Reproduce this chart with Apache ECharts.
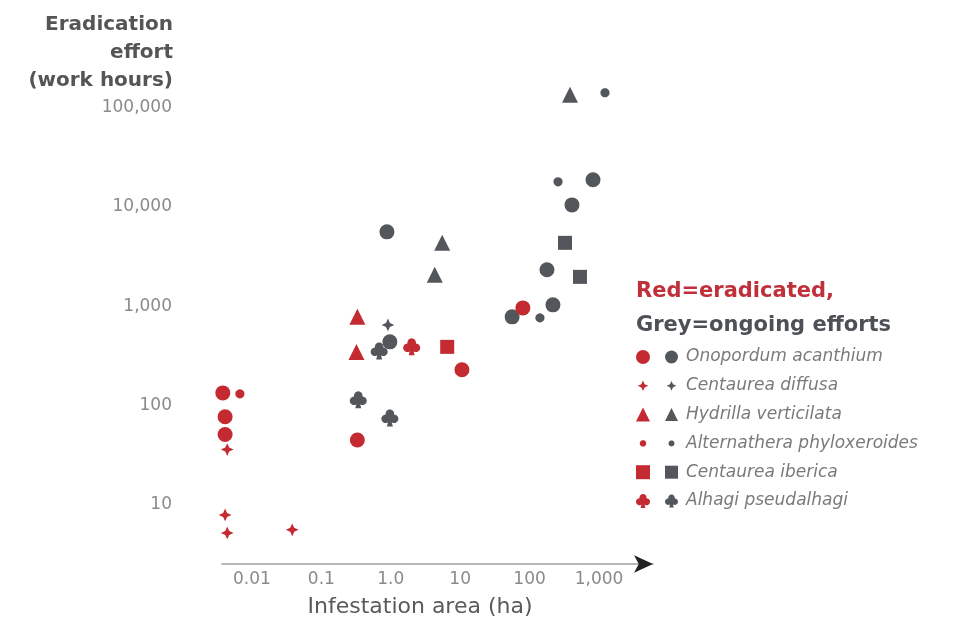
<!DOCTYPE html>
<html>
<head>
<meta charset="utf-8">
<script src="https://cdn.jsdelivr.net/npm/echarts@6/dist/echarts.min.js"></script>
<style>
  html, body { margin: 0; padding: 0; background: #fff; }
  #chart { width: 961px; height: 625px; }
</style>
</head>
<body>
<div id="chart"></div>
<script>
// ---- tick labels ----
const xTickLabels = ['0.01', '0.1', '1.0', '10', '100', '1,000']; // 10^-2 .. 10^3
const yTickLabels = ['10', '100', '1,000', '10,000', '100,000'];   // 10^1 .. 10^5

// ---- species ----
const species = ['Onopordum acanthium', 'Centaurea diffusa', 'Hydrilla verticilata',
  'Alternathera phyloxeroides', 'Centaurea iberica', 'Alhagi pseudalhagi'];

// ---- eradicated (red): [area ha, work hours] ----
const onopordumEradicated = [[0.0038, 134], [0.0041, 77], [0.0041, 51], [0.33, 45], [10.6, 229], [80, 963]];
const diffusaEradicated = [[0.0044, 36], [0.0041, 7.9], [0.0044, 5.2], [0.038, 5.6]];
const hydrillaEradicated = [[0.33, 782], [0.32, 347]];
const alternantheraEradicated = [[0.0067, 131]];
const ibericaEradicated = [[6.5, 390]];
const alhagiEradicated = [[2.0, 390]];

// ---- ongoing (grey) ----
const onopordumOngoing = [[0.88, 5620], [0.97, 438], [820, 18800], [408, 10500], [178, 2330], [217, 1033], [56, 782]];
const diffusaOngoing = [[0.91, 649]];
const hydrillaOngoing = [[5.5, 4355], [4.3, 2073], [382, 135000]];
const alternantheraOngoing = [[1220, 141600], [257, 17950], [141, 764]];
const ibericaOngoing = [[324, 4355], [532, 1978]];
const alhagiOngoing = [[0.68, 355], [0.34, 114], [0.97, 75]];

const RED = '#c42a32';
const GREY = '#53575c';
const FONT = 'DejaVu Sans';

// symbol shapes (marker glyphs, not data)
function circlePoly(cx, cy, r, n) {
  let d = '';
  for (let i = 0; i < n; i++) {
    const a = 2 * Math.PI * i / n;
    d += (i === 0 ? 'M' : 'L') + (cx + r * Math.cos(a)).toFixed(2) + ',' + (cy + r * Math.sin(a)).toFixed(2) + ' ';
  }
  return d + 'Z ';
}
const starPath = 'path://M0,0 M24,24 M12,3 L14.8,9.2 L21,12 L14.8,14.8 L12,21 L9.2,14.8 L3,12 L9.2,9.2 Z';
const dotPath = 'path://M0,0 M24,24 ' + circlePoly(12, 12, 5.5, 24);
const clubPath = 'path://' + circlePoly(12, 6.8, 5.4, 24) + circlePoly(6.6, 13.4, 5.4, 24) +
  circlePoly(17.4, 13.4, 5.4, 24) + 'M12,9 L15.8,23 L8.2,23 Z';

const symbols = ['circle', starPath, 'triangle', dotPath, 'rect', clubPath];
const sizes = [15, 17, 16, 20, 14, 17];

const ongoing = [onopordumOngoing, diffusaOngoing, hydrillaOngoing, alternantheraOngoing, ibericaOngoing, alhagiOngoing];
const eradicated = [onopordumEradicated, diffusaEradicated, hydrillaEradicated, alternantheraEradicated, ibericaEradicated, alhagiEradicated];

const series = [];
species.forEach((s, i) => {
  series.push({
    name: s, type: 'scatter', data: ongoing[i], symbol: symbols[i], symbolSize: sizes[i],
    symbolKeepAspect: true, clip: false, itemStyle: { color: GREY, opacity: 1 }, z: 2
  });
});
species.forEach((s, i) => {
  series.push({
    name: s + ' (eradicated)', type: 'scatter', data: eradicated[i], symbol: symbols[i], symbolSize: sizes[i],
    symbolKeepAspect: true, clip: false, itemStyle: { color: RED, opacity: 1 }, z: 3
  });
});

function isPow(v, k) { return Math.abs(Math.log10(v) - k) < 1e-6; }

const chart = echarts.init(document.getElementById('chart'), null, { renderer: 'canvas' });
chart.setOption({
  backgroundColor: '#fff',
  animation: false,
  grid: [
    { left: 222, right: 308, top: 78, bottom: 61 },
    { left: 222, right: 308, top: 78, bottom: 61 }
  ],
  xAxis: [{
    type: 'log', gridIndex: 0, min: 0.0037, max: 6000, logBase: 10,
    axisLine: { show: true, lineStyle: { color: '#a0a0a0', width: 1.5 } },
    axisTick: { show: false }, splitLine: { show: false },
    axisLabel: {
      margin: 7, color: '#8a8a8a', fontSize: 17, fontFamily: FONT,
      formatter: v => { for (let k = -2; k <= 3; k++) if (isPow(v, k)) return xTickLabels[k + 2]; return ''; }
    }
  }, {
    type: 'log', gridIndex: 1, min: 0.0037, max: 6000,
    axisLine: { show: true, symbol: ['none', 'arrow'], symbolSize: [13, 19], lineStyle: { color: '#222', width: 0 } },
    axisTick: { show: false }, axisLabel: { show: false }, splitLine: { show: false }
  }],
  yAxis: [{
    type: 'log', gridIndex: 0, min: 2.53, max: 199526, logBase: 10,
    axisLine: { show: false }, axisTick: { show: false }, splitLine: { show: false },
    axisLabel: {
      margin: 50, color: '#8a8a8a', fontSize: 17, fontFamily: FONT,
      formatter: v => { for (let k = 1; k <= 5; k++) if (isPow(v, k)) return yTickLabels[k - 1]; return ''; }
    }
  }, { type: 'value', gridIndex: 1, show: false }],
  legend: [{
    data: species.map(s => s + ' (eradicated)'),
    orient: 'vertical', left: 636, top: 347, padding: 0,
    itemWidth: 14, itemHeight: 14, itemGap: 8.8, selectedMode: false,
    formatter: () => ' ',
    textStyle: { fontSize: 17, lineHeight: 20, fontFamily: FONT }
  }, {
    data: species,
    orient: 'vertical', left: 665, top: 347, padding: 0,
    itemWidth: 13, itemHeight: 13, itemGap: 8.8, selectedMode: false,
    textStyle: { fontSize: 17, lineHeight: 20, fontFamily: FONT, fontStyle: 'italic', color: '#7a7a7a', padding: [0, 0, 0, 3] }
  }],
  graphic: [
    { type: 'text', x: 173, y: 11, style: { text: 'Eradication\neffort\n(work hours)', align: 'right', verticalAlign: 'top', fontSize: 20, lineHeight: 28, fontWeight: 'bold', fontFamily: FONT, fill: '#555' } },
    { type: 'text', x: 420, y: 607, style: { text: 'Infestation area (ha)', align: 'center', verticalAlign: 'middle', fontSize: 22, fontFamily: FONT, fill: '#5a5a5a' } },
    { type: 'text', x: 636, y: 292, style: { text: 'Red=eradicated,', align: 'left', verticalAlign: 'middle', fontSize: 21, fontWeight: 'bold', fontFamily: FONT, fill: '#c0303a' } },
    { type: 'text', x: 636, y: 326, style: { text: 'Grey=ongoing efforts', align: 'left', verticalAlign: 'middle', fontSize: 21, fontWeight: 'bold', fontFamily: FONT, fill: '#4d5156' } }
  ],
  series: series
});
</script>
</body>
</html>
